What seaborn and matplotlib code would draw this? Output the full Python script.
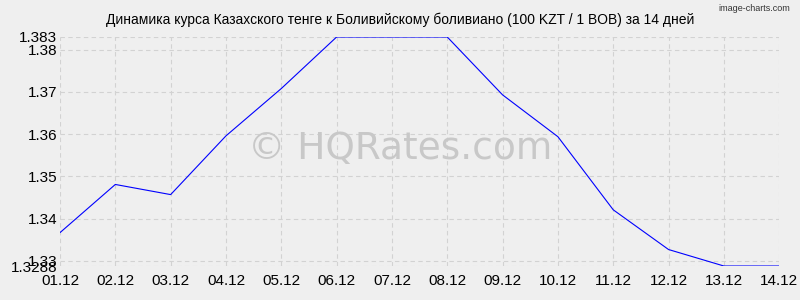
import matplotlib
matplotlib.use("Agg")
import matplotlib.pyplot as plt
import seaborn as sns
import pandas as pd
import numpy as np

dates = ["01.12", "02.12", "03.12", "04.12", "05.12", "06.12", "07.12",
         "08.12", "09.12", "10.12", "11.12", "12.12", "13.12", "14.12"]
rates = [1.3367, 1.3481, 1.3457, 1.3596, 1.3708, 1.383, 1.383,
         1.383, 1.3693, 1.3594, 1.3421, 1.3327, 1.3288, 1.3288]
ytick_values = [1.3288, 1.33, 1.34, 1.35, 1.36, 1.37, 1.38, 1.383]
ytick_labels = ["1.3288", "1.33", "1.34", "1.35", "1.36", "1.37", "1.38", "1.383"]
title = "Динамика курса Казахского тенге к Боливийскому боливиано (100 KZT / 1 BOB) за 14 дней"

sns.set_theme(style="white")
plt.rcParams['font.family'] = ['Liberation Sans', 'DejaVu Sans']

df = pd.DataFrame({"idx": np.arange(len(dates)), "rate": rates})

fig = plt.figure(figsize=(8, 3), dpi=100, facecolor="#efefef")
ax = fig.add_axes([0.075, 0.1133, 0.899, 0.7634])
ax.set_facecolor("#efefef")

sns.lineplot(data=df, x="idx", y="rate", ax=ax, color="#0000ff", linewidth=0.8)

ax.set_xlim(0, len(dates) - 1)
ax.set_ylim(ytick_values[0], ytick_values[-1])
ax.set_xticks(df["idx"])
ax.set_xticklabels(dates)
ax.set_yticks(ytick_values)
ax.set_yticklabels(ytick_labels)
ax.set_xlabel("")
ax.set_ylabel("")
ax.tick_params(axis="both", labelsize=11, colors="#000000", length=0, pad=6)
ax.tick_params(axis="y", pad=2)
ax.grid(True, color="#d2d2d2", linestyle=(0, (4, 3)), linewidth=0.8)
for s in ax.spines.values():
    s.set_visible(False)

fig.text(0.5, 0.935, title, ha="center", va="center", fontsize=10, color="#000000")
fig.text(0.988, 0.972, "image-charts.com", ha="right", va="center", fontsize=6.5, color="#333333")
fig.text(0.5, 0.505, "© HQRates.com", ha="center", va="center", family="DejaVu Sans",
         fontsize=27, color="#c8c8c8", zorder=0)

fig.savefig("out.png", dpi=100, facecolor="#efefef")
